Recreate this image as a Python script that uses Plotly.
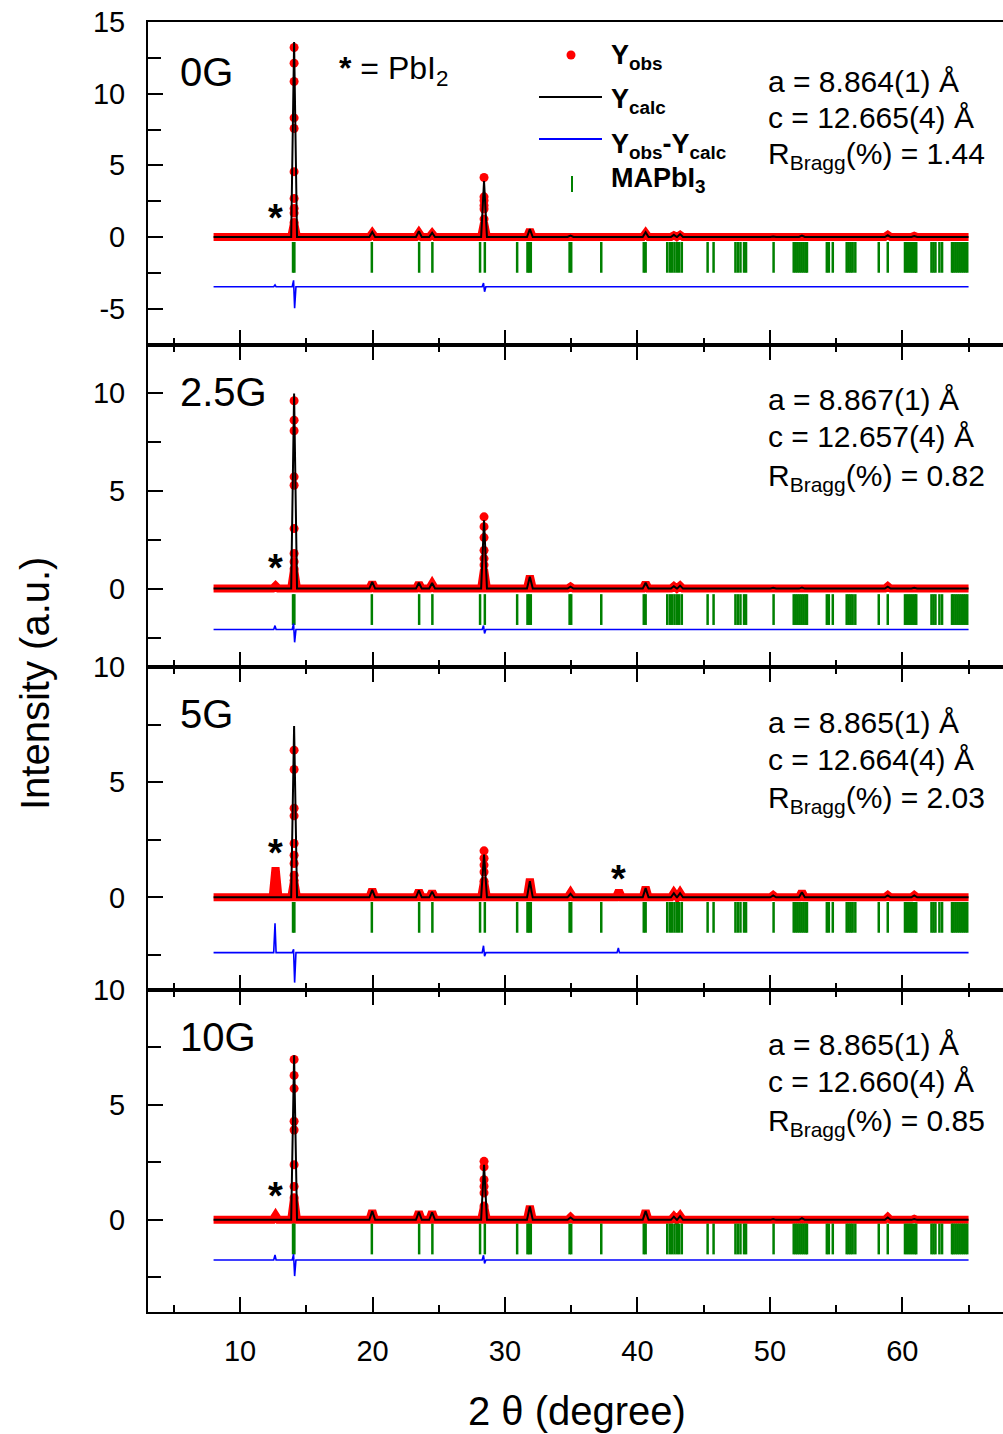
import plotly.graph_objects as go
from plotly.subplots import make_subplots

FONT = "Liberation Sans, Arial, sans-serif"

# ---------------- data ----------------
panels = ["0G", "2.5G", "5G", "10G"]

# 2-theta positions of visible reflections (PbI2 at 12.68 and 38.60)
peak_2theta = [12.68, 14.08, 19.98, 23.50, 24.50, 28.42, 31.88, 34.95, 38.60,
               40.62, 42.75, 43.22, 50.25, 52.42, 58.90, 60.90]

# observed profile heights (for the two strong peaks: height of the dense foot)
obs_0G   = [0.10, 1.00, 0.28, 0.30, 0.25, 1.00, 0.50, 0.13, 0.05, 0.28, 0.12, 0.15, 0.05, 0.10, 0.15, 0.08]
obs_2_5G = [0.15, 1.00, 0.31, 0.28, 0.25, 1.00, 0.65, 0.10, 0.00, 0.30, 0.12, 0.15, 0.05, 0.05, 0.12, 0.05]
obs_5G   = [1.30, 0.74, 0.35, 0.30, 0.25, 0.70, 0.80, 0.20, 0.30, 0.45, 0.20, 0.20, 0.10, 0.25, 0.10, 0.10]
obs_10G  = [0.20, 0.96, 0.40, 0.35, 0.35, 0.60, 0.60, 0.12, 0.00, 0.40, 0.15, 0.18, 0.05, 0.08, 0.12, 0.05]

# calculated profile heights
calc_0G   = [0.00, 13.60, 0.35, 0.40, 0.30, 3.90, 0.55, 0.10, 0.00, 0.33, 0.15, 0.20, 0.04, 0.10, 0.12, 0.06]
calc_2_5G = [0.00, 9.95, 0.34, 0.30, 0.28, 3.48, 0.60, 0.10, 0.00, 0.30, 0.12, 0.15, 0.04, 0.05, 0.10, 0.04]
calc_5G   = [0.00, 7.44, 0.32, 0.30, 0.25, 1.86, 0.70, 0.15, 0.00, 0.40, 0.18, 0.18, 0.08, 0.22, 0.08, 0.08]
calc_10G  = [0.00, 7.14, 0.38, 0.35, 0.33, 2.39, 0.58, 0.10, 0.00, 0.38, 0.14, 0.16, 0.04, 0.07, 0.10, 0.04]

# individual observed points on the two strongest peaks
strong_2theta = [14.08, 28.42]
dots14_0G   = [13.22, 12.13, 10.85, 8.31, 7.57, 4.56, 2.69, 1.99, 1.67, 1.02]
dots28_0G   = [4.15, 2.80, 2.55, 2.20, 1.95, 1.25, 0.60]
dots14_2_5G = [9.58, 8.59, 8.05, 5.70, 5.27, 3.06, 1.79, 1.37, 1.00]
dots28_2_5G = [3.66, 3.16, 2.60, 1.95, 1.53, 1.20, 0.60]
dots14_5G   = [6.39, 5.55, 3.87, 3.54, 2.34, 1.83, 1.47, 0.96, 0.74]
dots28_5G   = [2.02, 1.70, 1.40, 1.10, 0.70]
dots14_10G  = [6.96, 6.27, 5.70, 4.28, 3.90, 2.39, 1.45, 0.96]
dots28_10G  = [2.54, 2.30, 1.74, 1.45, 1.17, 0.60]

# difference curve: offset and spikes (up / down) at these positions
diff_2theta = [12.68, 14.08, 28.42, 38.60]
diff_offset = [-3.47, -2.09, -2.40, -1.74]
diff_up_0G   = [0.12, 0.45, 0.25, 0.00]
diff_dn_0G   = [0.00, 1.50, 0.35, 0.00]
diff_up_2_5G = [0.20, 0.30, 0.20, 0.00]
diff_dn_2_5G = [0.00, 0.65, 0.20, 0.00]
diff_up_5G   = [1.27, 0.15, 0.30, 0.20]
diff_dn_5G   = [0.00, 1.30, 0.15, 0.00]
diff_up_10G  = [0.22, 0.25, 0.20, 0.00]
diff_dn_10G  = [0.00, 0.70, 0.15, 0.00]

# Bragg positions of MAPbI3
bragg_2theta = [14.00, 14.10, 19.95, 23.52, 24.52, 28.12, 28.48, 30.92, 31.70, 31.82, 31.95,
                34.88, 35.00, 37.27, 40.48, 40.62, 42.25, 42.45, 42.62, 42.80, 42.98, 43.15,
                43.35, 45.30, 45.75, 47.40, 47.58, 47.78, 48.05, 48.20, 50.28, 51.80, 51.95,
                52.10, 52.25, 52.40, 52.55, 52.70, 52.80, 54.30, 54.45, 54.75, 55.80, 55.95,
                56.10, 56.25, 56.45, 58.22, 58.90, 60.20, 60.35, 60.50, 60.65, 60.80, 60.95,
                61.05, 62.20, 62.35, 62.50, 62.80, 63.00, 63.75, 63.85, 64.00, 64.15, 64.30,
                64.45, 64.60, 64.75, 64.90]
bragg_y = [-1.42, -1.07, -0.87, -0.83]

scan_start, scan_end = 8.0, 65.0

# refined parameters
param_a = ["a = 8.864(1) Å", "a = 8.867(1) Å", "a = 8.865(1) Å", "a = 8.865(1) Å"]
param_c = ["c = 12.665(4) Å", "c = 12.657(4) Å", "c = 12.664(4) Å", "c = 12.660(4) Å"]
r_bragg = ["1.44", "0.82", "2.03", "0.85"]

# PbI2 markers (2theta, intensity) per panel
star_0G = [(12.65, 1.95)]
star_2_5G = [(12.65, 1.5)]
star_5G = [(12.65, 2.3), (38.6, 1.2)]
star_10G = [(12.65, 1.43)]

y_ranges = [[-7.5, 15.0001], [-4, 12.45], [-4, 10.0001], [-4, 10.0001]]
y_tickvals = [-5, 0, 5, 10, 15]
y_ticktext = ["-5", "0", "5", "10", "15"]

obs = {"0G": obs_0G, "2.5G": obs_2_5G, "5G": obs_5G, "10G": obs_10G}
calc = {"0G": calc_0G, "2.5G": calc_2_5G, "5G": calc_5G, "10G": calc_10G}
dots14 = {"0G": dots14_0G, "2.5G": dots14_2_5G, "5G": dots14_5G, "10G": dots14_10G}
dots28 = {"0G": dots28_0G, "2.5G": dots28_2_5G, "5G": dots28_5G, "10G": dots28_10G}
dup = {"0G": diff_up_0G, "2.5G": diff_up_2_5G, "5G": diff_up_5G, "10G": diff_up_10G}
ddn = {"0G": diff_dn_0G, "2.5G": diff_dn_2_5G, "5G": diff_dn_5G, "10G": diff_dn_10G}
stars = {"0G": star_0G, "2.5G": star_2_5G, "5G": star_5G, "10G": star_10G}


def stick_profile(pos, heights, half=0.22):
    xs, ys = [scan_start], [0.0]
    for p, h in zip(pos, heights):
        xs += [p - half, p, p + half]
        ys += [0.0, h, 0.0]
    xs.append(scan_end)
    ys.append(0.0)
    return xs, ys


def diff_profile(pos, off, up, dn):
    xs, ys = [scan_start], [off]
    for p, u, d in zip(pos, up, dn):
        xs += [p - 0.14, p - 0.04, p + 0.04, p + 0.14]
        ys += [off, off + u, off - d, off]
    xs.append(scan_end)
    ys.append(off)
    return xs, ys


# ---------------- figure ----------------
W, H = 1003, 1434
ML, MR, MT, MB = 148, 0, 22, 122
PH = H - MT - MB


def py(p):
    return (H - MB - p) / PH


def px(p):
    return (p - ML) / (W - ML - MR)


fig = make_subplots(rows=4, cols=1, shared_xaxes=True, vertical_spacing=0)

for i, key in enumerate(panels):
    row = i + 1
    ox, oy = stick_profile(peak_2theta, obs[key])
    fig.add_trace(go.Scatter(x=ox, y=oy, mode="lines",
                             line=dict(color="#ff0000", width=8),
                             hoverinfo="skip", showlegend=False), row=row, col=1)
    dx = [strong_2theta[0]] * len(dots14[key]) + [strong_2theta[1]] * len(dots28[key])
    dy = dots14[key] + dots28[key]
    fig.add_trace(go.Scatter(x=dx, y=dy, mode="markers",
                             marker=dict(color="#ff0000", size=9),
                             hoverinfo="skip", showlegend=False), row=row, col=1)
    cx, cy = stick_profile(peak_2theta, calc[key])
    fig.add_trace(go.Scatter(x=cx, y=cy, mode="lines",
                             line=dict(color="black", width=2),
                             hoverinfo="skip", showlegend=False), row=row, col=1)
    fig.add_trace(go.Scatter(x=bragg_2theta, y=[bragg_y[i]] * len(bragg_2theta),
                             mode="markers",
                             marker=dict(symbol="line-ns", size=22,
                                         line=dict(color="#008000", width=2.5)),
                             hoverinfo="skip", showlegend=False), row=row, col=1)
    fx, fy = diff_profile(diff_2theta, diff_offset[i], dup[key], ddn[key])
    fig.add_trace(go.Scatter(x=fx, y=fy, mode="lines",
                             line=dict(color="#0000ff", width=1.6),
                             hoverinfo="skip", showlegend=False), row=row, col=1)

    xa = "x" if row == 1 else f"x{row}"
    ya = "y" if row == 1 else f"y{row}"
    for (sx, sy) in stars[key]:
        fig.add_annotation(x=sx, y=sy, xref=xa, yref=ya, text="<b>*</b>", showarrow=False,
                           font=dict(family=FONT, size=38, color="black"),
                           xanchor="center", yanchor="middle", yshift=-9)

    top = MT + i * PH / 4
    off = 58 if i == 0 else 55
    fig.add_annotation(x=px(178), y=py(top + off - 8), xref="paper", yref="paper",
                       text=key, showarrow=False, xanchor="left", yanchor="middle",
                       font=dict(family=FONT, size=40, color="black"))
    pa_y = [81, 117, 151] if i == 0 else [top + 55, top + 92, top + 128]
    fig.add_annotation(x=px(766), y=py(pa_y[0]), xref="paper", yref="paper",
                       text=param_a[i], showarrow=False, xanchor="left", yanchor="middle",
                       font=dict(family=FONT, size=30, color="black"))
    fig.add_annotation(x=px(766), y=py(pa_y[1]), xref="paper", yref="paper",
                       text=param_c[i], showarrow=False, xanchor="left", yanchor="middle",
                       font=dict(family=FONT, size=30, color="black"))
    fig.add_annotation(x=px(766), y=py(pa_y[2]), xref="paper", yref="paper",
                       text=f"R<sub>Bragg</sub>(%) = {r_bragg[i]}", showarrow=False,
                       xanchor="left", yanchor="top", yshift=16,
                       font=dict(family=FONT, size=30, color="black"))

# PbI2 note
fig.add_annotation(x=px(337), y=py(70), xref="paper", yref="paper",
                   text="<b>*</b> = PbI<sub>2</sub>", showarrow=False, xanchor="left",
                   yanchor="middle", font=dict(family=FONT, size=32, color="black"))

# manual legend (panel 1)
leg_font = dict(family=FONT, size=27, color="black")
leg_items = [("<b>Y<sub>obs</sub></b>", 57), ("<b>Y<sub>calc</sub></b>", 101),
             ("<b>Y<sub>obs</sub>-Y<sub>calc</sub></b>", 146), ("<b>MAPbI<sub>3</sub></b>", 180)]
for txt, yy in leg_items:
    fig.add_annotation(x=px(609), y=py(yy), xref="paper", yref="paper", text=txt,
                       showarrow=False, xanchor="left", yanchor="middle", font=leg_font)

fig.add_shape(type="circle", xref="paper", yref="paper", xsizemode="pixel", ysizemode="pixel",
              xanchor=px(571), yanchor=py(55), x0=-4.5, x1=4.5, y0=-4.5, y1=4.5,
              fillcolor="#ff0000", line=dict(width=0))
fig.add_shape(type="line", xref="paper", yref="paper", x0=px(539), x1=px(602),
              y0=py(97), y1=py(97), line=dict(color="black", width=2))
fig.add_shape(type="line", xref="paper", yref="paper", x0=px(539), x1=px(602),
              y0=py(139), y1=py(139), line=dict(color="#0000ff", width=2))
fig.add_shape(type="line", xref="paper", yref="paper", x0=px(572), x1=px(572),
              y0=py(176), y1=py(192), line=dict(color="#008000", width=2))

# axis titles
fig.add_annotation(x=px(35), y=py(684), xref="paper", yref="paper", text="Intensity (a.u.)",
                   textangle=-90, showarrow=False, xanchor="center", yanchor="middle",
                   font=dict(family=FONT, size=40, color="black"))
fig.add_annotation(x=px(577), y=py(1411), xref="paper", yref="paper", text="2 θ (degree)",
                   showarrow=False, xanchor="center", yanchor="middle",
                   font=dict(family=FONT, size=40, color="black"))

tick_font = dict(family=FONT, size=29, color="black")
for r in range(1, 5):
    fig.update_xaxes(range=[3.05, 67.6], tick0=0, dtick=10, ticks="inside", ticklen=15,
                     tickwidth=2, tickcolor="black", showline=True, linewidth=2,
                     linecolor="black", mirror=(True if r == 1 else "ticks"),
                     showgrid=False, zeroline=False,
                     minor=dict(dtick=5, tick0=0, ticks="inside", ticklen=7, tickwidth=2,
                                tickcolor="black", showgrid=False),
                     showticklabels=(r == 4), tickfont=tick_font, ticklabelstandoff=12,
                     row=r, col=1)
    fig.update_yaxes(range=y_ranges[r - 1], tickmode="array", tickvals=y_tickvals,
                     ticktext=y_ticktext, ticks="inside", ticklen=15,
                     tickwidth=2, tickcolor="black", showline=True, linewidth=2,
                     linecolor="black", mirror=False, showgrid=False, zeroline=False,
                     minor=dict(dtick=2.5, tick0=0, ticks="inside", ticklen=13, tickwidth=2,
                                tickcolor="black", showgrid=False),
                     tickfont=tick_font, ticklabelstandoff=15, row=r, col=1)

fig.update_layout(width=W, height=H, margin=dict(l=ML, r=MR, t=MT, b=MB),
                  paper_bgcolor="white", plot_bgcolor="white", showlegend=False,
                  font=dict(family=FONT, color="black"))

fig.write_html("out.html")
